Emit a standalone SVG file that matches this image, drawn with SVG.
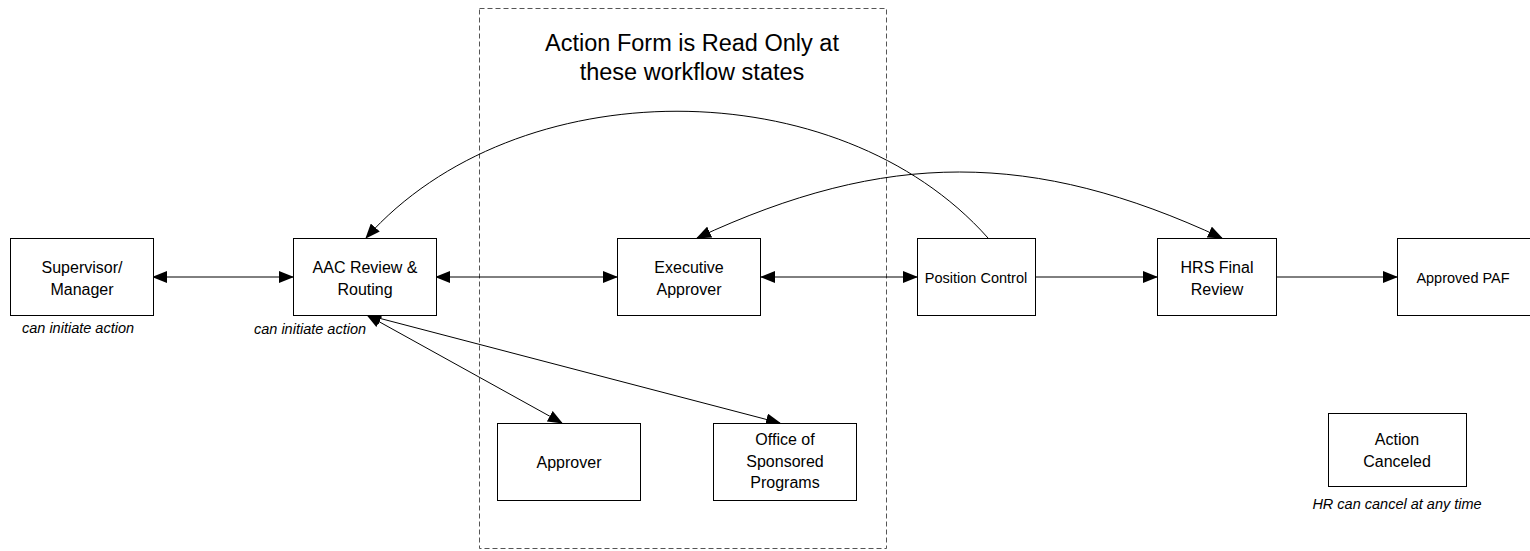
<svg xmlns="http://www.w3.org/2000/svg" width="1530" height="551" viewBox="0 0 1530 551">
<style>
.box{fill:#fff;stroke:#000;stroke-width:1}
.lbl{font-family:"Liberation Sans",Arial,sans-serif;font-size:16px;text-anchor:middle;fill:#000}
.sm{font-size:14.5px}
.cap{font-family:"Liberation Sans",Arial,sans-serif;font-size:14.5px;font-style:italic;text-anchor:middle;fill:#000}
.title{font-family:"Liberation Sans",Arial,sans-serif;font-size:23.5px;text-anchor:middle;fill:#000}
.con{fill:none;stroke:#000;stroke-width:1}
</style>
<defs>
<marker id="ah" markerUnits="userSpaceOnUse" markerWidth="16" markerHeight="12" refX="14" refY="6" orient="auto-start-reverse" viewBox="0 0 16 12">
<path d="M0,0 L15,6 L0,12 Z" fill="#000"/>
</marker>
</defs>
<rect x="479.5" y="8.5" width="407" height="540" fill="none" stroke="#555" stroke-width="1" stroke-dasharray="5,3"/>
<text class="title" x="692" y="51">Action Form is Read Only at</text>
<text class="title" x="692" y="80">these workflow states</text>

<g id="connectors">
<line class="con" x1="153" y1="277" x2="293" y2="277" marker-start="url(#ah)" marker-end="url(#ah)"/>
<line class="con" x1="436" y1="277" x2="617" y2="277" marker-start="url(#ah)" marker-end="url(#ah)"/>
<line class="con" x1="761" y1="277" x2="917" y2="277" marker-start="url(#ah)" marker-end="url(#ah)"/>
<line class="con" x1="1035" y1="277" x2="1157" y2="277" marker-end="url(#ah)"/>
<line class="con" x1="1277" y1="277" x2="1397" y2="277" marker-end="url(#ah)"/>
<path class="con" d="M988,238 C838,69 516,69 366,238" marker-end="url(#ah)"/>
<path class="con" d="M697,238 C886,150 1033,150 1222,238" marker-start="url(#ah)" marker-end="url(#ah)"/>
<line class="con" x1="367" y1="315" x2="562" y2="423" marker-start="url(#ah)" marker-end="url(#ah)"/>
<line class="con" x1="367" y1="315" x2="780" y2="423" marker-start="url(#ah)" marker-end="url(#ah)"/>
</g>

<g id="supervisor">
<rect class="box" x="10.5" y="238.5" width="143" height="77"/>
<text class="lbl" x="82" y="273">Supervisor/</text>
<text class="lbl" x="82" y="295">Manager</text>
<text class="cap" x="78" y="333">can initiate action</text>
</g>
<g id="aac">
<rect class="box" x="293.5" y="238.5" width="143" height="77"/>
<text class="lbl" x="365" y="273">AAC Review &amp;</text>
<text class="lbl" x="365" y="295">Routing</text>
<text class="cap" x="310" y="334">can initiate action</text>
</g>
<g id="executive">
<rect class="box" x="617.5" y="238.5" width="143" height="77"/>
<text class="lbl" x="689" y="273">Executive</text>
<text class="lbl" x="689" y="295">Approver</text>
</g>
<g id="position">
<rect class="box" x="917.5" y="238.5" width="118" height="77"/>
<text class="lbl sm" x="976" y="283">Position Control</text>
</g>
<g id="hrs">
<rect class="box" x="1157.5" y="238.5" width="119" height="77"/>
<text class="lbl" x="1217" y="273">HRS Final</text>
<text class="lbl" x="1217" y="295">Review</text>
</g>
<g id="approved">
<rect class="box" x="1397.5" y="238.5" width="140" height="77"/>
<text class="lbl sm" x="1463" y="283">Approved PAF</text>
</g>
<g id="approver">
<rect class="box" x="497.5" y="423.5" width="143" height="77"/>
<text class="lbl" x="569" y="468">Approver</text>
</g>
<g id="osp">
<rect class="box" x="713.5" y="423.5" width="143" height="77"/>
<text class="lbl" x="785" y="445">Office of</text>
<text class="lbl" x="785" y="467">Sponsored</text>
<text class="lbl" x="785" y="488">Programs</text>
</g>
<g id="canceled">
<rect class="box" x="1328.5" y="413.5" width="138" height="73"/>
<text class="lbl" x="1397" y="445">Action</text>
<text class="lbl" x="1397" y="467">Canceled</text>
<text class="cap" x="1397" y="509">HR can cancel at any time</text>
</g>
</svg>
